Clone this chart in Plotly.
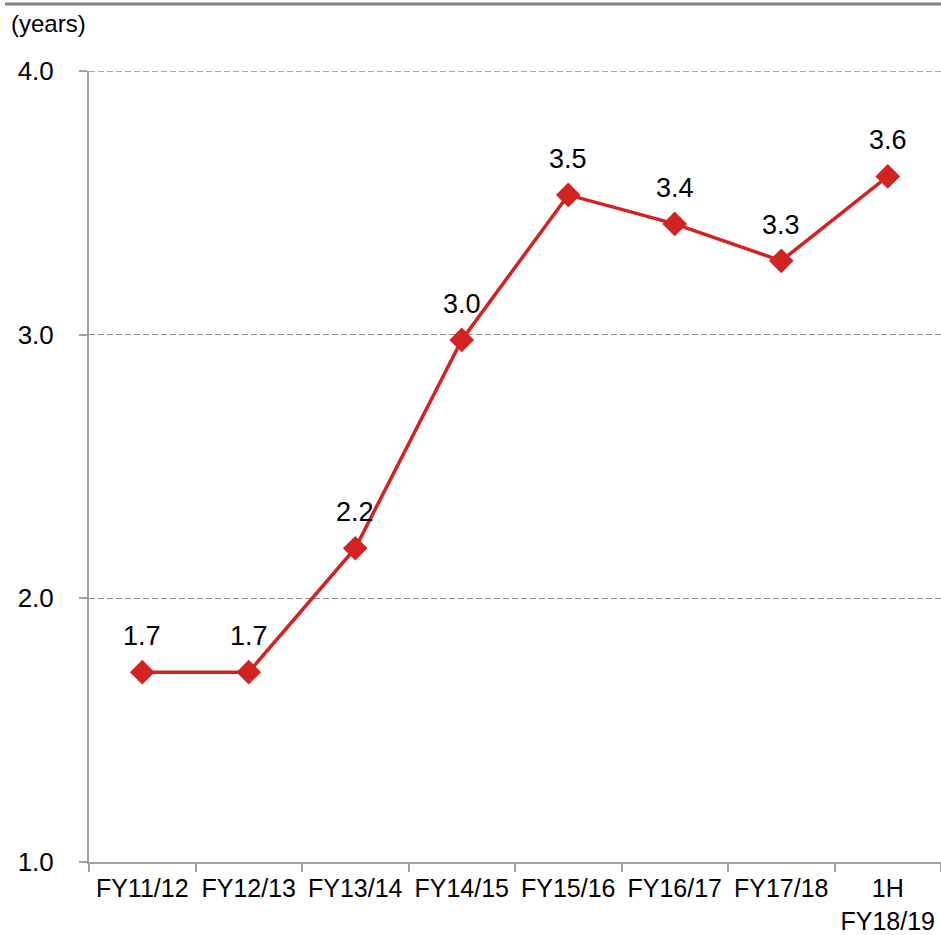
import plotly.graph_objects as go

categories = ["FY11/12", "FY12/13", "FY13/14", "FY14/15", "FY15/16", "FY16/17", "FY17/18", "1H<br>FY18/19"]
values = [1.72, 1.72, 2.19, 2.98, 3.53, 3.42, 3.28, 3.60]
labels = ["1.7", "1.7", "2.2", "3.0", "3.5", "3.4", "3.3", "3.6"]
y_ticks = [1.0, 2.0, 3.0, 4.0]
y_max = 4.0

RED = "#D22222"
FONT = "Liberation Sans, Arial, sans-serif"

fig = go.Figure()
fig.add_trace(go.Scatter(
    x=categories, y=values, mode="lines+markers",
    line=dict(color=RED, width=3.5),
    marker=dict(symbol="diamond", size=19, color=RED),
    cliponaxis=False, showlegend=False,
))

W, H = 941, 935
L, R, T, B = 89, 0, 71, 73
pw = W - L - R
ph = H - T - B

annotations = [dict(
    text="(years)", xref="paper", yref="paper",
    x=(9 - L) / pw, y=(H - B - 23) / ph,
    xanchor="left", yanchor="middle", showarrow=False,
    font=dict(size=24, family=FONT, color="#000000"),
)]
for c, v, t in zip(categories, values, labels):
    annotations.append(dict(
        x=c, y=v, xref="x", yref="y", text=t, showarrow=False,
        xanchor="center", yanchor="bottom", yshift=19,
        font=dict(size=27, family=FONT, color="#000000"),
    ))

fig.update_layout(
    width=W, height=H,
    margin=dict(l=L, r=R, t=T, b=B, autoexpand=False),
    paper_bgcolor="white", plot_bgcolor="white",
    font=dict(family=FONT, size=26, color="#000000"),
    xaxis=dict(
        type="category", range=[-0.5, 7.5], tickangle=0, automargin=False,
        showline=True, linecolor="#A0A0A0", linewidth=2,
        ticks="outside", tickson="boundaries", ticklen=8, tickcolor="#A0A0A0", tickwidth=2,
        showgrid=False, tickfont=dict(size=25), ticklabelstandoff=3,
    ),
    yaxis=dict(
        range=[1.0, y_max], tickvals=y_ticks, tickformat=".1f", automargin=False,
        showline=True, linecolor="#A0A0A0", linewidth=2,
        ticks="outside", ticklen=8, tickcolor="#A0A0A0", tickwidth=2,
        showgrid=True, gridcolor="#8C8C8C", griddash="6px,3px", gridwidth=1.3,
        zeroline=False, tickfont=dict(size=26), ticklabelstandoff=20,
    ),
    shapes=[
        dict(
            type="line", xref="paper", yref="paper",
            x0=(5 - L) / pw, x1=1.0,
            y0=(H - B - 4) / ph, y1=(H - B - 4) / ph,
            line=dict(color="#808080", width=3),
        ),
        dict(
            type="line", xref="paper", yref="y",
            x0=0, x1=1, y0=y_max, y1=y_max,
            line=dict(color="#8C8C8C", width=1.3, dash="6px,3px"),
            layer="below",
        ),
    ],
    annotations=annotations,
)

fig.write_html("out.html")
